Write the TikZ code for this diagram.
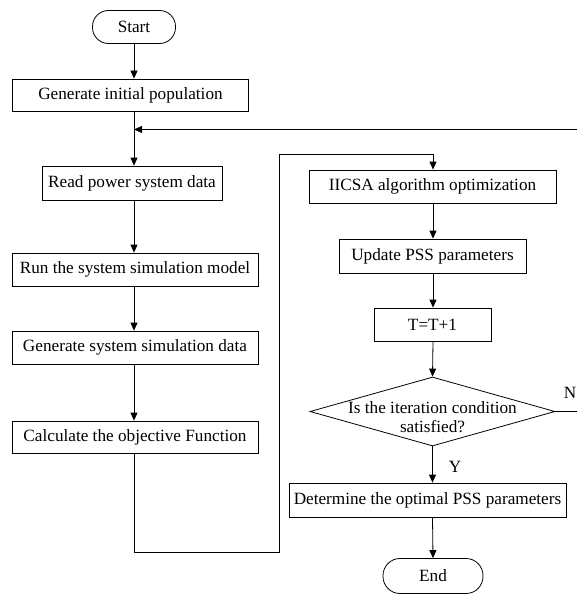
\documentclass[tikz,border=0pt]{standalone}
\usepackage{fontspec}
\setmainfont{Liberation Serif}
\usetikzlibrary{shapes.geometric,arrows.meta}
\begin{document}
\begin{tikzpicture}[x=1pt,y=-1pt,
  every node/.style={font=\fontsize{17.2}{19}\selectfont, inner sep=1pt},
  box/.style={draw, line width=0.8pt, minimum height=33pt},
  term/.style={draw, line width=0.8pt, rounded corners=16pt, minimum height=33pt},
  dec/.style={draw, line width=0.8pt, diamond, aspect=3.55, minimum width=245pt, minimum height=69pt, inner sep=0pt},
  arr/.style={line width=0.8pt, -{Triangle[length=8pt,width=7pt]}},
  ln/.style={line width=0.8pt}]
\useasboundingbox (0,0) rectangle (577,594);
\node[term, minimum width=83pt] (start) at (134,27) {Start};
\node[box, minimum width=236pt, minimum height=32pt] (gen) at (130.5,95) {Generate initial population};
\node[box, minimum width=180pt, minimum height=34pt] (read) at (132,183) {Read power system data};
\node[box, minimum width=246pt] (run) at (135,269.5) {Run the system simulation model};
\node[box, minimum width=246pt] (gdata) at (135,347.5) {Generate system simulation data};
\node[box, minimum width=246pt, minimum height=32pt] (calc) at (135,437) {Calculate the objective Function};
\node[box, minimum width=247pt] (iicsa) at (432.5,186.5) {IICSA algorithm optimization};
\node[box, minimum width=187pt, minimum height=34pt] (upd) at (432.5,256) {Update PSS parameters};
\node[box, minimum width=117pt] (tt) at (432.5,324.5) {T=T+1};
\node[dec] (cond) at (432.5,411.5) {};
\node[align=center, yshift=-6pt] (condtxt) at (cond.center) {Is the iteration condition\\[0pt]satisfied?};
\node[box, minimum width=277pt, minimum height=34pt] (det) at (427.5,500) {Determine the optimal PSS parameters};
\node[term, minimum width=100pt, minimum height=35pt, rounded corners=17pt] (end) at (433,576) {End};
\node (nlab) at (570,393) {N};
\node (ylab) at (455,467) {Y};
\coordinate (fb) at (577,129.5);
\coordinate (nend) at (577,411.5);
\coordinate (lp1) at (134,552);
\coordinate (lp2) at (279,552);
\coordinate (lp3) at (279,154);
\coordinate (lp4) at (433,154);

\draw[arr] (start.south) -- (start.south |- gen.north);
\draw[arr] (start.south |- gen.south) -- (start.south |- read.north);
\draw[arr] (fb) -- (start.south |- fb);
\draw[arr] (start.south |- read.south) -- (start.south |- run.north);
\draw[arr] (start.south |- run.south) -- (start.south |- gdata.north);
\draw[arr] (start.south |- gdata.south) -- (start.south |- calc.north);
\draw[ln] (start.south |- calc.south) -- (lp1) -- (lp2) -- (lp3) -- (lp4);
\draw[arr] (lp4) -- (lp4 |- iicsa.north);
\draw[arr] (lp4 |- iicsa.south) -- (lp4 |- upd.north);
\draw[arr] (lp4 |- upd.south) -- (lp4 |- tt.north);
\draw[arr] (lp4 |- tt.south) -- (cond.north);
\draw[arr] (cond.south) -- (cond.south |- det.north);
\draw[arr] (cond.south |- det.south) -- (end.north);
\draw[ln] (cond.east) -- (nend);
\end{tikzpicture}
\end{document}
